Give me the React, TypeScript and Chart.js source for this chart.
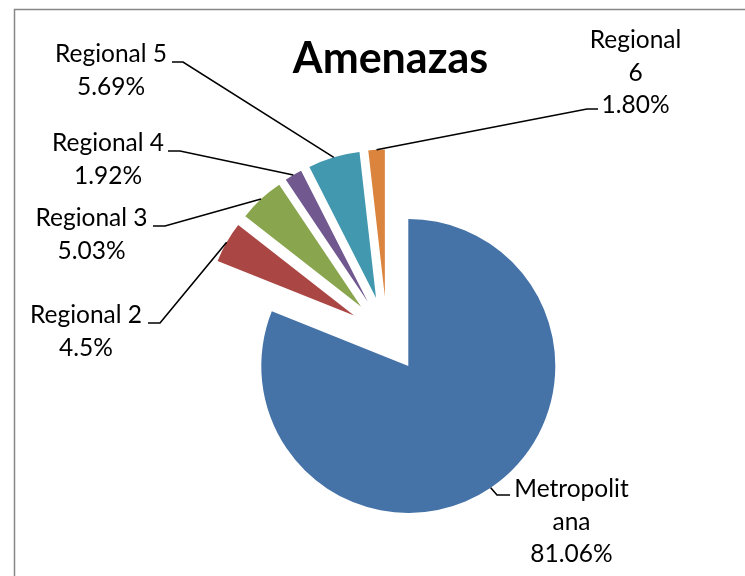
import React, { useEffect, useRef } from "react";
import { Chart, registerables } from "chart.js";

Chart.register(...registerables);

// ---- data ----
const categories = ["Metropolitana", "Regional 2", "Regional 3", "Regional 4", "Regional 5", "Regional 6"];
const values = [81.06, 4.5, 5.03, 1.92, 5.69, 1.8];
const percentLabels = ["81.06%", "4.5%", "5.03%", "1.92%", "5.69%", "1.80%"];
const nameLines = [["Metropolit", "ana"], ["Regional 2"], ["Regional 3"], ["Regional 4"], ["Regional 5"], ["Regional", "6"]];
const colors = ["#4572A7", "#AA4643", "#89A54E", "#71588F", "#4198AF", "#DB843D"];
const chartTitle = "Amenazas";

// ---- layout (label placement, not data) ----
const labelCenters = [571.5, 86, 91.5, 108, 111, 635.5];
const labelFirstBaselines = [497, 323, 226, 151, 62, 48];
const lineGap = 32.5;
const leaderStarts = [[510, 495], [148, 323], [153, 226], [168, 151], [172, 62], [598, 109]];
const leaderElbows = [[497, 495], [160, 323], [165, 226], [180, 151], [183, 62], [587, 109]];

const EXPLODE = 38;
const RADIUS = 147;
const LABEL_FONT = "24.5px Lato";
const TITLE_FONT = "bold 43px Lato";

const explodePlugin = {
  id: "explodeAndLabels",
  afterDatasetsUpdate(chart: any) {
    const meta = chart.getDatasetMeta(0);
    const ca = chart.chartArea;
    const cx = (ca.left + ca.right) / 2;
    const cy = (ca.top + ca.bottom) / 2;
    meta.data.forEach((arc: any) => {
      const mid = (arc.startAngle + arc.endAngle) / 2;
      arc.x = cx + Math.cos(mid) * EXPLODE;
      arc.y = cy + Math.sin(mid) * EXPLODE;
    });
  },
  afterDraw(chart: any) {
    const ctx = chart.ctx as CanvasRenderingContext2D;
    const meta = chart.getDatasetMeta(0);
    ctx.save();
    // frame
    ctx.strokeStyle = "#878787";
    ctx.lineWidth = 1.5;
    ctx.strokeRect(14.5, 9.5, 800, 700);
    // title
    ctx.fillStyle = "#000";
    ctx.font = TITLE_FONT;
    ctx.textAlign = "center";
    ctx.textBaseline = "alphabetic";
    ctx.fillText(chartTitle, 390.5, 73);
    // labels
    ctx.font = LABEL_FONT;
    categories.forEach((_, i) => {
      const lines = [...nameLines[i], percentLabels[i]];
      lines.forEach((t, j) => {
        ctx.fillText(t, labelCenters[i], labelFirstBaselines[i] + j * lineGap);
      });
      const arc: any = meta.data[i];
      const mid = (arc.startAngle + arc.endAngle) / 2;
      const ax = arc.x + Math.cos(mid) * arc.outerRadius;
      const ay = arc.y + Math.sin(mid) * arc.outerRadius;
      ctx.strokeStyle = "#000";
      ctx.lineWidth = 1.6;
      ctx.beginPath();
      ctx.moveTo(leaderStarts[i][0], leaderStarts[i][1]);
      ctx.lineTo(leaderElbows[i][0], leaderElbows[i][1]);
      ctx.lineTo(ax, ay);
      ctx.stroke();
    });
    ctx.restore();
  },
};

export default function App() {
  const ref = useRef<HTMLCanvasElement | null>(null);
  useEffect(() => {
    if (!ref.current) return;
    const chart = new Chart(ref.current, {
      type: "pie",
      data: {
        labels: categories,
        datasets: [
          {
            data: values,
            backgroundColor: colors,
            borderWidth: 0,
            offset: 0,
            hoverOffset: 0,
          },
        ],
      },
      options: {
        responsive: false,
        animation: false,
        radius: RADIUS,
        layout: { padding: { left: 29, right: 0, top: 93, bottom: 0 } },
        plugins: { legend: { display: false }, tooltip: { enabled: false }, title: { display: false } },
        events: [],
      } as any,
      plugins: [explodePlugin],
    });
    return () => chart.destroy();
  }, []);
  return (
    <div style={{ position: "fixed", left: 0, top: 0, width: 745, height: 576, background: "#fff" }}>
      <canvas ref={ref} width={745} height={576} style={{ width: 745, height: 576, display: "block" }} />
    </div>
  );
}
